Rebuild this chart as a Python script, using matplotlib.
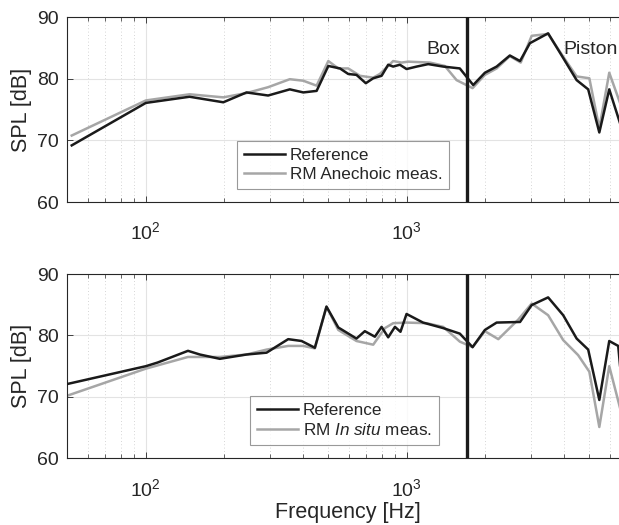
import matplotlib
matplotlib.use('Agg')
import matplotlib.pyplot as plt
from matplotlib.ticker import LogLocator, NullFormatter

plt.rcParams['font.family'] = ['Liberation Sans', 'DejaVu Sans']
plt.rcParams['mathtext.fontset'] = 'custom'
plt.rcParams['mathtext.rm'] = 'Liberation Sans'
plt.rcParams['mathtext.it'] = 'Liberation Sans:italic'

# anechoic comparison (top)
f_ref_top = [52, 100, 147, 198, 243, 294, 356, 401, 451, 500, 554, 596, 641, 696,
             743, 800, 848, 886, 940, 997, 1090, 1207, 1378, 1595, 1795, 1990,
             2207, 2480, 2713, 2960, 3476, 3970, 4470, 4950, 5460, 5960, 7000]
spl_ref_top = [69.2, 76.1, 77.1, 76.2, 77.8, 77.3, 78.3, 77.8, 78.05, 82.1, 81.7,
               80.8, 80.65, 79.3, 80.1, 80.5, 82.3, 82.0, 82.3, 81.6, 82.0, 82.4,
               82.0, 81.7, 79.0, 81.0, 82.0, 83.8, 82.9, 85.8, 87.4, 83.4, 79.8,
               78.3, 71.3, 78.3, 69.0]
f_rm_top = [52, 100, 147, 198, 243, 294, 356, 401, 451, 500, 546, 596, 661, 743,
            788, 886, 954, 1012, 1225, 1398, 1550, 1785, 1990, 2207, 2480, 2730,
            3007, 3476, 4030, 4470, 5000, 5460, 5960, 7000]
spl_rm_top = [70.8, 76.5, 77.5, 77.0, 77.7, 78.65, 79.95, 79.7, 78.9, 82.9, 81.7,
              81.7, 80.5, 80.2, 80.8, 82.9, 82.65, 82.8, 82.65, 82.1, 79.8, 78.5,
              80.65, 81.7, 83.7, 82.65, 87.0, 87.3, 83.2, 80.4, 80.1, 72.0, 81.0,
              72.7]

# in situ comparison (bottom)
f_ref_bot = [50, 100, 111, 145, 161, 192, 243, 290, 351, 395, 444, 492, 546, 641,
             690, 754, 800, 848, 900, 945, 997, 1153, 1378, 1595, 1785, 1990,
             2207, 2713, 3007, 3476, 3970, 4470, 4950, 5460, 5960, 6450, 7000]
spl_ref_bot = [72.1, 75.0, 75.6, 77.5, 76.9, 76.2, 76.9, 77.2, 79.4, 79.1, 78.0,
               84.7, 81.3, 79.5, 80.7, 79.8, 81.4, 79.7, 81.4, 80.6, 83.5, 82.1,
               81.2, 80.3, 78.1, 80.9, 82.1, 82.2, 84.95, 86.2, 83.3, 79.5, 77.7,
               69.5, 79.1, 78.3, 62.0]
f_rm_bot = [50, 100, 145, 192, 243, 290, 351, 401, 444, 492, 546, 641, 743, 824,
            886, 997, 1188, 1378, 1595, 1785, 1990, 2240, 2673, 3007, 3476, 3970,
            4530, 5000, 5460, 5960, 7000]
spl_rm_bot = [70.2, 74.6, 76.5, 76.5, 76.9, 77.7, 78.3, 78.3, 77.9, 84.7, 80.9,
              79.1, 78.5, 81.2, 82.0, 82.1, 82.0, 81.4, 79.0, 78.1, 80.7, 79.4,
              82.6, 85.2, 83.3, 79.25, 76.8, 74.1, 65.1, 75.0, 63.5]

f_split = 1700
y_ticks = [60, 70, 80, 90]

text_col = '#262626'
black = '#1a1a1a'
gray = '#a6a6a6'

fig = plt.figure(figsize=(6.19, 5.25), dpi=100)
ax_top = fig.add_axes([0.1087, 0.6152, 0.905, 0.3518])
ax_bot = fig.add_axes([0.1087, 0.1270, 0.905, 0.3510])

panels = [
    (ax_top, f_ref_top, spl_ref_top, f_rm_top, spl_rm_top,
     'RM Anechoic meas.', (0.303, 0.070)),
    (ax_bot, f_ref_bot, spl_ref_bot, f_rm_bot, spl_rm_bot,
     r'RM $\mathit{In\ situ}$ meas.', (0.326, 0.072)),
]

for ax, fr, sr, fm, sm, rm_label, leg_pos in panels:
    ax.set_xscale('log')
    ax.set_xlim(50, 7000)
    ax.set_ylim(60, 90)
    ax.set_yticks(y_ticks)
    ax.xaxis.set_major_locator(LogLocator(base=10))
    ax.xaxis.set_minor_locator(LogLocator(base=10, subs=range(2, 10)))
    ax.xaxis.set_minor_formatter(NullFormatter())

    ax.grid(True, which='major', color='#e3e3e3', linewidth=0.8, zorder=0)
    ax.grid(True, which='minor', axis='x', color='#c8c8c8', linewidth=0.6,
            linestyle=(0, (1, 3)), zorder=0)
    ax.set_axisbelow(True)

    ax.plot(fr, sr, color=black, linewidth=1.8, label='Reference', zorder=3)
    ax.plot(fm, sm, color=gray, linewidth=1.8, label=rm_label, zorder=2)
    ax.axvline(f_split, color=black, linewidth=2.4, zorder=4)

    ax.tick_params(which='both', direction='in', top=True, right=True,
                   colors=text_col, labelsize=14)
    ax.tick_params(axis='y', pad=6)
    ax.tick_params(axis='x', which='major', pad=14)
    ax.tick_params(which='major', length=4.5, width=0.6)
    ax.tick_params(which='minor', length=3, width=0.5)
    for sp in ax.spines.values():
        sp.set_color(text_col)
        sp.set_linewidth(0.8)
    ax.set_ylabel('SPL [dB]', fontsize=15.5, color=text_col, labelpad=4)

    leg = ax.legend(loc='lower left', bbox_to_anchor=leg_pos, borderaxespad=0,
                    fontsize=12.3, frameon=True, fancybox=False,
                    handlelength=2.4, handletextpad=0.3, borderpad=0.4,
                    labelspacing=0.25)
    leg.get_frame().set_edgecolor('#808080')
    leg.get_frame().set_linewidth(0.8)
    for t in leg.get_texts():
        t.set_color(text_col)

ax_top.annotate('Box', xy=(f_split, 84.8), xytext=(-5, 0),
                textcoords='offset points', ha='right', va='center',
                fontsize=14, color=text_col)
ax_top.text(3960, 84.8, 'Piston', ha='left', va='center',
            fontsize=14, color=text_col)

ax_bot.set_xlabel('Frequency [Hz]', fontsize=15.5, color=text_col, labelpad=2)

fig.savefig('out.png', dpi=100)
